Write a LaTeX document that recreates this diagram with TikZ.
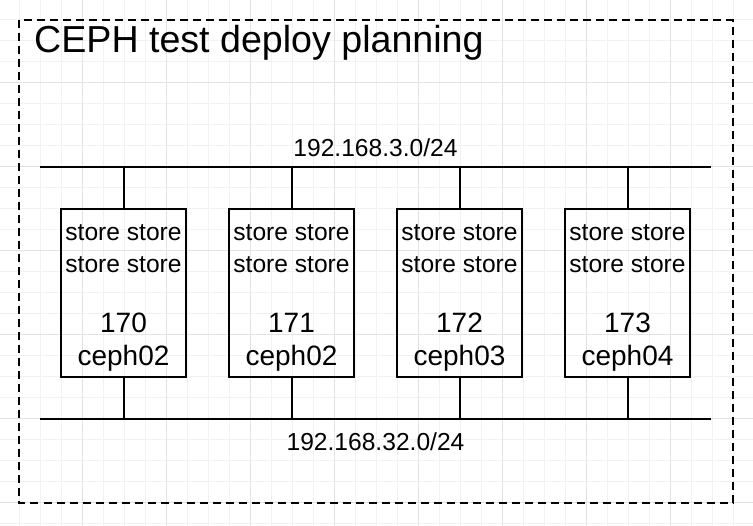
\documentclass[tikz,border=0pt]{standalone}
\usepackage{fontspec}
\setmainfont{Liberation Sans}
\begin{document}
\begin{tikzpicture}[x=1pt,y=-1pt,
  gridminor/.style={draw=black!5, line width=1pt},
  gridmajor/.style={draw=black!11, line width=1pt},
  frame/.style={draw=black, line width=2pt, dash pattern=on 8pt off 5pt},
  host/.style={draw=black, line width=2pt, minimum width=125pt, minimum height=168pt, inner sep=0pt},
  bus/.style={draw=black, line width=2pt},
  link/.style={draw=black, line width=2pt},
  small/.style={inner sep=0pt, anchor=base, font=\fontsize{24.6}{29}\selectfont},
  big/.style={inner sep=0pt, anchor=base, font=\fontsize{28}{33}\selectfont},
  titletext/.style={inner sep=0pt, anchor=base west, font=\fontsize{37.6}{45}\selectfont}]
\useasboundingbox (0,0) rectangle (753,526);
\fill[white] (0,0) rectangle (753,526);
% background grid
\foreach \i in {0,...,36} {
  \draw[gridminor] (-2+21*\i,0) -- (-2+21*\i,526);
}
\foreach \i in {0,...,25} {
  \draw[gridminor] (0,-1+21*\i) -- (753,-1+21*\i);
}
\foreach \i in {0,...,9} {
  \draw[gridmajor] (-2+84*\i,0) -- (-2+84*\i,526);
}
\foreach \i in {0,...,6} {
  \draw[gridmajor] (0,-1+84*\i) -- (753,-1+84*\i);
}
% frame
\draw[frame] (19,20.5) rectangle (732.5,503);
\node[titletext] (title) at (34,53) {CEPH test deploy planning};
% buses
\coordinate (topL) at (40,167);
\coordinate (topR) at (711,167);
\coordinate (botL) at (40,419);
\coordinate (botR) at (711,419);
\draw[bus] (topL) -- (topR);
\draw[bus] (botL) -- (botR);
\node[small] (net1) at (375.5,157) {192.168.3.0/24};
\node[small] (net2) at (375.5,450.5) {192.168.32.0/24};
% hosts
\foreach \n/\x/\num/\name in {a/123.5/170/ceph02, b/291.5/171/ceph02, c/459.5/172/ceph03, d/627.5/173/ceph04} {
  \node[host] (\n) at (\x,293) {};
  \node[small] (\n s1) at (\x,241) {store store};
  \node[small] (\n s2) at (\x,273) {store store};
  \node[big] (\n num) at (\x,333) {\num};
  \node[big] (\n name) at (\x,366) {\name};
  \draw[link] (\n.north) -- (\n.north |- topL);
  \draw[link] (\n.south) -- (\n.south |- botL);
}
\end{tikzpicture}
\end{document}
